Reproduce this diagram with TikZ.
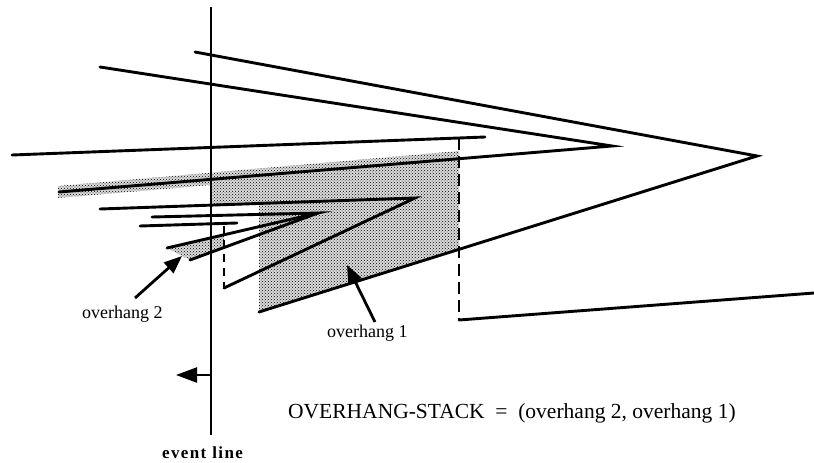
\documentclass[tikz,border=0pt]{standalone}
\usepackage{fontspec}
\setmainfont{Liberation Serif}
\newfontfamily\evfont[LetterSpace=8.0]{Liberation Serif}
\usetikzlibrary{arrows.meta,patterns}
\begin{document}
\begin{tikzpicture}[x=1pt,y=-1pt,
  edge/.style={line width=2.9pt, line join=miter, line cap=round},
  evline/.style={line width=2.2pt},
  dashline/.style={line width=2.4pt, dash pattern=on 12pt off 6pt},
  smalldash/.style={line width=2.2pt, dash pattern=on 8pt off 6pt},
  shadebase/.style={fill=black!14},
  shade/.style={pattern=crosshatch dots, pattern color=black},
  pointer/.style={line width=2.8pt, -{Triangle[length=18pt,width=14pt]}},
  backarrow/.style={line width=2.2pt, -{Triangle[length=21pt,width=15pt]}},
  lab/.style={inner sep=0pt, font=\fontsize{18}{20}\selectfont},
  biglab/.style={inner sep=0pt, font=\fontsize{21.5}{24}\selectfont},
  evlab/.style={inner sep=0pt, font=\evfont\bfseries\fontsize{17}{19}\selectfont}
]
\useasboundingbox (0,0) rectangle (814,463);

% vertices
\coordinate (a1) at (195,52);   \coordinate (apexA) at (757,156); \coordinate (a2) at (259,312);
\coordinate (b1) at (100,67);   \coordinate (apexB) at (612,146); \coordinate (b2) at (59,192);
\coordinate (c1) at (12,155);   \coordinate (c2) at (485,137);
\coordinate (d1) at (100,209);  \coordinate (apexD) at (415,198); \coordinate (d2) at (224,288);
\coordinate (e1) at (152,217);  \coordinate (apexE) at (318,213); \coordinate (e2) at (167,248);
\coordinate (e3) at (190,260);
\coordinate (f1) at (140,226);  \coordinate (f2) at (237,223);
\coordinate (g1) at (459,320);  \coordinate (g2) at (814,293);
\coordinate (dtop) at (459,138);
\coordinate (sdtop) at (224,226);
\coordinate (evtop) at (211,7);  \coordinate (evbot) at (211,435);
\coordinate (evarr) at (211,375); \coordinate (evtip) at (176,375);

% shaded overhang regions
\def\regionone{(58,186) -- (459,151) -- (459,248) -- (a2) -- (259,204) -- (211,205) -- (211,185) -- (58,198) -- cycle}
\def\regiontwo{(e2) -- (224,235) -- (224,247.5) -- (e3) -- cycle}
\fill[shadebase] \regionone;
\fill[shade] \regionone;
\fill[shadebase] \regiontwo;
\fill[shade] \regiontwo;

% event line
\draw[evline] (evtop) -- (evbot);
\draw[backarrow] (evarr) -- (evtip);

% polylines
\draw[edge] (a1) -- (apexA) -- (a2);
\draw[edge] (b1) -- (apexB) -- (b2);
\draw[edge] (c1) -- (c2);
\draw[edge] (d1) -- (apexD) -- (d2);
\draw[edge] (e1) -- (apexE) -- (e2);
\draw[edge] (e3) -- (apexE);
\draw[edge] (f1) -- (f2);
\draw[edge] (g1) -- (g2);
\draw[dashline] (dtop) -- (g1);
\draw[smalldash] (sdtop) -- (d2);

% labels and pointers
\node[lab, anchor=base west] (ov2) at (82,318) {overhang 2};
\node[lab, anchor=base west] (ov1) at (327,337) {overhang 1};
\coordinate (p2tail) at (135,298); \coordinate (p2tip) at (182,256);
\coordinate (p1tail) at (375,322); \coordinate (p1tip) at (347,265);
\draw[pointer] (p2tail) -- (p2tip);
\draw[pointer] (p1tail) -- (p1tip);
\node[biglab, anchor=base west] (stack) at (288,418) {OVERHANG-STACK~~=~~(overhang 2, overhang 1)};
\node[evlab, anchor=base west] (ev) at (162,458) {event\hspace{6pt}line};
\end{tikzpicture}
\end{document}
